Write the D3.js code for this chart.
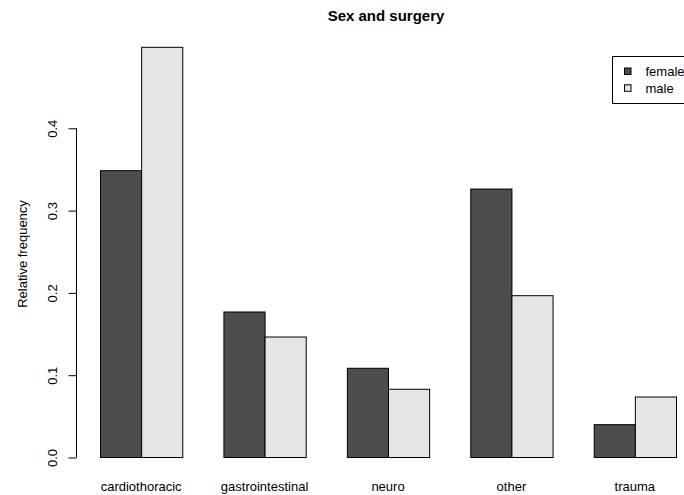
<!DOCTYPE html>
<html>
<head>
<meta charset="utf-8">
<script src="https://cdn.jsdelivr.net/npm/d3@7"></script>
<style>
  html, body { margin: 0; padding: 0; background: #fff; }
  svg { display: block; font-family: "Liberation Sans", Arial, Helvetica, sans-serif; }
</style>
</head>
<body>
<svg id="chart" width="684" height="495"></svg>
<script>
const categories = ["cardiothoracic", "gastrointestinal", "neuro", "other", "trauma"];
const seriesNames = ["female", "male"];
const female = [0.3485, 0.1768, 0.1084, 0.3262, 0.0399];
const male = [0.4984, 0.1464, 0.0829, 0.1966, 0.0735];
const yTicks = [0, 0.1, 0.2, 0.3, 0.4];
const colors = ["#4D4D4D", "#E6E6E6"];
const title = "Sex and surgery";
const yLabel = "Relative frequency";

const series = [female, male];
const svg = d3.select("#chart");

const x0 = d3.scaleBand().domain(categories).range([100, 676]).paddingInner(1/3).paddingOuter(0);
const x1 = d3.scaleBand().domain(seriesNames).range([0, x0.bandwidth()]).padding(0);
const y = d3.scaleLinear().domain([0, 0.4]).range([457.5, 128.3]);

// bars
const groups = svg.append("g").selectAll("g")
  .data(categories)
  .join("g")
  .attr("transform", d => `translate(${x0(d)},0)`);

groups.selectAll("rect")
  .data((c, i) => seriesNames.map((s, j) => ({ s, j, v: series[j][i] })))
  .join("rect")
  .attr("x", d => x1(d.s) + 0.5)
  .attr("y", d => y(d.v))
  .attr("width", x1.bandwidth())
  .attr("height", d => y(0) - y(d.v))
  .attr("fill", d => colors[d.j])
  .attr("stroke", "#000")
  .attr("stroke-width", 1);

// x labels
svg.append("g").selectAll("text")
  .data(categories)
  .join("text")
  .attr("x", d => x0(d) + x0.bandwidth() / 2)
  .attr("y", 491)
  .attr("text-anchor", "middle")
  .attr("font-size", 13)
  .attr("fill", "#000")
  .text(d => d);

// y axis
const yAxis = d3.axisLeft(y).tickValues(yTicks).tickSize(8).tickFormat(d3.format(".1f"));
const ga = svg.append("g").attr("transform", "translate(76.5,0)").call(yAxis);
ga.select(".domain").attr("stroke", "#000").attr("d", `M0,${y(0)}V${y(0.4)}`);
ga.selectAll(".tick line").attr("stroke", "#000");
ga.selectAll(".tick text")
  .attr("font-size", 13)
  .attr("font-family", "Liberation Sans, Arial, sans-serif")
  .attr("fill", "#000")
  .attr("text-anchor", "middle")
  .attr("x", null)
  .attr("transform", "translate(-24.5,0) rotate(-90)")
  .attr("dy", "0.35em");

// y label
svg.append("text")
  .attr("transform", "translate(22,254) rotate(-90)")
  .attr("text-anchor", "middle")
  .attr("dy", "0.35em")
  .attr("font-size", 13)
  .attr("fill", "#000")
  .text(yLabel);

// title
svg.append("text")
  .attr("x", 386)
  .attr("y", 21)
  .attr("text-anchor", "middle")
  .attr("font-size", 15)
  .attr("font-weight", "bold")
  .attr("fill", "#000")
  .text(title);

// legend
const lg = svg.append("g");
lg.append("rect")
  .attr("x", 612.5).attr("y", 56.5)
  .attr("width", 100).attr("height", 47)
  .attr("fill", "#fff").attr("stroke", "#000");
const items = lg.selectAll("g.item")
  .data(seriesNames)
  .join("g")
  .attr("class", "item")
  .attr("transform", (d, i) => `translate(0,${i * 16.8})`);
items.append("rect")
  .attr("x", 624.5).attr("y", 68)
  .attr("width", 6.5).attr("height", 6.5)
  .attr("fill", (d, i) => colors[i])
  .attr("stroke", "#000");
items.append("text")
  .attr("x", 645.5).attr("y", 76)
  .attr("font-size", 13)
  .attr("fill", "#000")
  .text(d => d);
</script>
</body>
</html>
